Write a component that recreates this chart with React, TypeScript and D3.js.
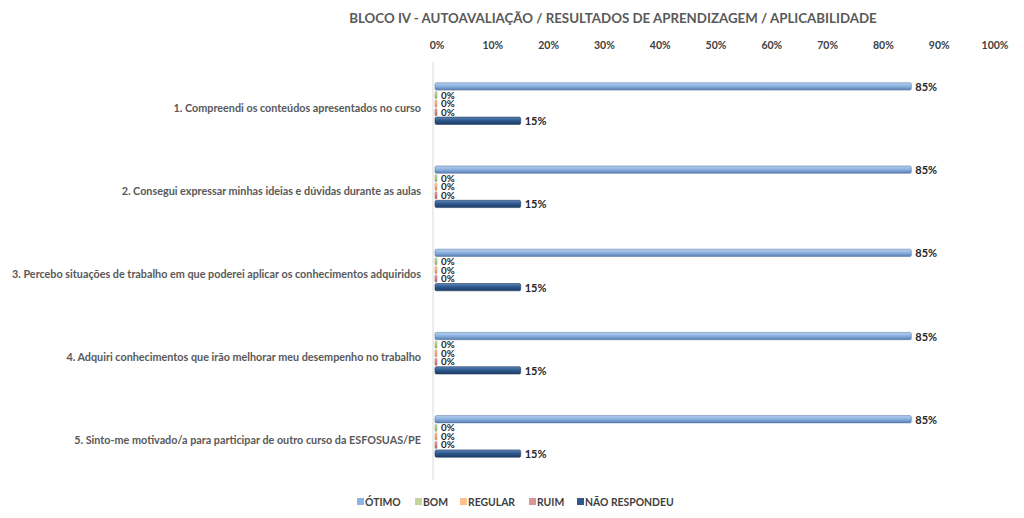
import React from "react";
import * as d3 from "d3";

const title = "BLOCO IV - AUTOAVALIAÇÃO / RESULTADOS DE APRENDIZAGEM / APLICABILIDADE";
const categories = [
  "1. Compreendi os conteúdos apresentados no curso",
  "2. Consegui expressar minhas ideias e dúvidas durante as aulas",
  "3. Percebo situações de trabalho em que poderei aplicar os conhecimentos adquiridos",
  "4. Adquiri conhecimentos que irão melhorar meu desempenho no trabalho",
  "5. Sinto-me motivado/a para participar de outro curso da ESFOSUAS/PE",
];
const seriesNames = ["ÓTIMO", "BOM", "REGULAR", "RUIM", "NÃO RESPONDEU"];
const otimo = [85, 85, 85, 85, 85];
const bom = [0, 0, 0, 0, 0];
const regular = [0, 0, 0, 0, 0];
const ruim = [0, 0, 0, 0, 0];
const naoRespondeu = [15, 15, 15, 15, 15];
const seriesValues = [otimo, bom, regular, ruim, naoRespondeu];
const xTicks = [0, 10, 20, 30, 40, 50, 60, 70, 80, 90, 100];

const colors = ["#8EB4E3", "#C3D69B", "#FAC090", "#D99694", "#2F5A8F"];
const lightColors = ["#B9D1EE", "#DCE8C4", "#FCD9BC", "#EBC0BF", "#5F86B8"];
const darkColors = ["#5A7EAD", "#8FA866", "#C48D5E", "#A86462", "#1E3D63"];
const legendPos = [357, 415, 460, 529, 577];

const FONT = "Lato, 'Open Sans', sans-serif";

export default function App() {
  const W = 1024, H = 518;
  const x = d3.scaleLinear().domain([0, 100]).range([437, 995]);
  const y = d3.scaleBand<string>().domain(categories).range([62, 478]).paddingInner(0.5).paddingOuter(0.25);
  const inner = d3.scaleBand<string>().domain(seriesNames).range([0, y.bandwidth()]).paddingInner(0.15);
  const bw = inner.bandwidth();

  return (
    <svg width={W} height={H} style={{ position: "absolute", left: 0, top: 0, background: "#fff" }}>
      <defs>
        {colors.map((c, i) => (
          <linearGradient key={i} id={`g${i}`} x1="0" y1="0" x2="0" y2="1">
            <stop offset="0%" stopColor={lightColors[i]} />
            <stop offset="45%" stopColor={c} />
            <stop offset="100%" stopColor={darkColors[i]} />
          </linearGradient>
        ))}
      </defs>
      <text x={613} y={23} textAnchor="middle" fontFamily={FONT} fontWeight="bold" fontSize={13.3} fill="#595959">
        {title}
      </text>
      {xTicks.map((t) => (
        <text key={t} x={x(t)} y={49} textAnchor="middle" fontFamily={FONT} fontWeight="bold" fontSize={10.5} fill="#404040">
          {t}%
        </text>
      ))}
      <line x1={433} x2={433} y1={62} y2={480} stroke="#D9D9D9" strokeWidth={1} />
      {categories.map((cat, ci) => {
        const y0 = y(cat)!;
        return (
          <g key={cat}>
            <text x={421} y={y0 + y.bandwidth() / 2 + 8} textAnchor="end" fontFamily={FONT} fontWeight="bold" fontSize={10.8} fill="#595959">
              {cat}
            </text>
            {seriesNames.map((s, si) => {
              const v = seriesValues[si][ci];
              const by = y0 + inner(s)!;
              const x0 = x(0) - 2;
              const w = Math.max(x(v) - x0, 2);
              return (
                <g key={s}>
                  <rect x={x0} y={by} width={w} height={bw} rx={1.5} fill={`url(#g${si})`} stroke={darkColors[si]} strokeWidth={0.6} />
                  <text x={x0 + w + 4} y={by + bw / 2 + (v === 0 ? 3.5 : 4.5)} fontFamily={FONT} fontWeight="bold" fontSize={v === 0 ? 9.8 : 11} fill="#262626">
                    {v}%
                  </text>
                </g>
              );
            })}
          </g>
        );
      })}
      {seriesNames.map((s, i) => (
        <g key={s}>
          <rect x={legendPos[i]} y={498} width={7} height={7} fill={colors[i]} />
          <text x={legendPos[i] + 8} y={506} fontFamily={FONT} fontWeight="bold" fontSize={10.4} fill="#404040">
            {s}
          </text>
        </g>
      ))}
    </svg>
  );
}
